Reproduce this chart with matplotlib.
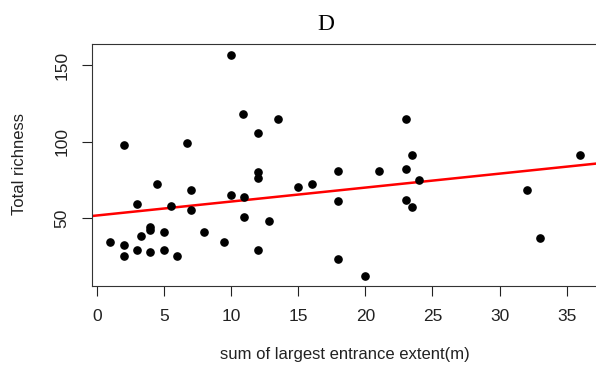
import matplotlib
matplotlib.use("Agg")
import matplotlib.pyplot as plt

plt.rcParams['font.family'] = ['Liberation Sans', 'DejaVu Sans']

# entrance extent (m) vs total richness
extent = [1, 2, 2, 2, 3, 3, 3.3, 4, 4, 4, 4.5, 5, 5, 5.5, 6, 6.7, 7, 7, 8, 9.5,
          10, 10, 10.9, 11, 11, 12, 12, 12, 12, 12.8, 13.5, 15, 16, 18, 18, 18,
          20, 21, 23, 23, 23, 23.5, 23.5, 24, 32, 33, 36]
richness = [34, 98, 32, 25, 59, 29, 38, 44, 42, 28, 72, 41, 29, 58, 25, 99, 68, 55, 41, 34.5,
            157, 65, 118, 64, 50.5, 106, 80, 76, 29, 48, 115, 70, 72, 81, 61, 23,
            12, 81, 115, 82, 62, 91, 57, 75, 68, 37, 91]

# fitted regression line
fit_intercept = 51.6
fit_slope = 0.915

x_ticks = [0, 5, 10, 15, 20, 25, 30, 35]
y_ticks = [50, 100, 150]

fig = plt.figure(figsize=(5.96, 3.67), dpi=100)
ax = fig.add_axes([0.1539, 0.2207, 0.8512, 0.6594])

ax.plot(extent, richness, 'o', color='black', markersize=5.2, zorder=3)
ax.axline((0, fit_intercept), slope=fit_slope, color='red', lw=1.8, zorder=2)

ax.set_xlim(-0.37, 37.4)
ax.set_ylim(5.4, 164)
ax.set_xticks(x_ticks)
ax.set_yticks(y_ticks)
ax.tick_params(length=7.2, width=0.8, pad=9, labelsize=12.5, colors='#222222')
for lab in ax.get_yticklabels():
    lab.set_rotation(90)
    lab.set_va('center')
for sp in ax.spines.values():
    sp.set_linewidth(0.8)
    sp.set_color('#333333')

fig.text(326 / 596, 1 - 29.5 / 367, 'D', ha='center', va='baseline',
         fontfamily='Liberation Serif', fontsize=17)
fig.text(345 / 596, 1 - 354 / 367, 'sum of largest entrance extent(m)',
         ha='center', va='center', fontsize=12, color='#222222')
fig.text(20 / 596, 1 - 164 / 367, 'Total richness', ha='center', va='center',
         rotation=90, fontsize=12, color='#222222')

fig.savefig('out.png', dpi=100)
